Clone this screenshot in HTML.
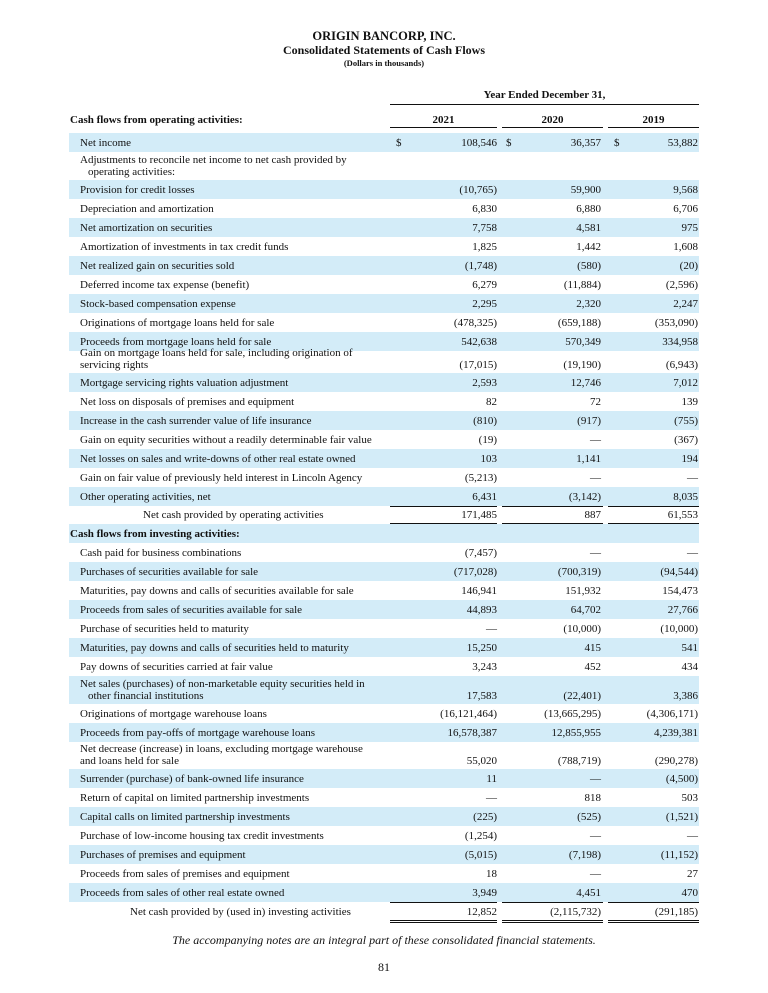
<!DOCTYPE html>
<html><head><meta charset="utf-8">
<style>
html,body{margin:0;padding:0;background:#fff;}
body{width:768px;height:993px;position:relative;font-family:"Liberation Serif",serif;color:#111;overflow:hidden;}
.abs{position:absolute;}
.t{left:0;width:768px;text-align:center;font-weight:bold;}
.row{position:absolute;left:69px;width:630px;font-size:11px;}
.row.sh{background:#d3ecf8;}
.lab{position:absolute;left:11px;bottom:3px;line-height:12px;white-space:nowrap;}
.v{position:absolute;bottom:3px;line-height:12px;text-align:right;white-space:nowrap;}
.ln{position:absolute;height:1px;background:#111;}
</style></head><body>
<div class="abs t" style="top:29px;font-size:12.5px">ORIGIN BANCORP, INC.</div>
<div class="abs t" style="top:43px;font-size:12px">Consolidated Statements of Cash Flows</div>
<div class="abs t" style="top:58px;font-size:8.5px">(Dollars in thousands)</div>
<div class="abs" style="left:390px;width:309px;top:89px;text-align:center;font-size:11px;font-weight:bold">Year Ended December 31,</div>
<div class="ln" style="left:390px;width:309px;top:104px"></div>
<div class="abs" style="left:70px;top:114px;font-size:11px;font-weight:bold">Cash flows from operating activities:</div>
<div class="abs" style="left:390px;width:107px;top:114px;text-align:center;font-size:11px;font-weight:bold">2021</div>
<div class="abs" style="left:502px;width:101px;top:114px;text-align:center;font-size:11px;font-weight:bold">2020</div>
<div class="abs" style="left:608px;width:91px;top:114px;text-align:center;font-size:11px;font-weight:bold">2019</div>
<div class="ln" style="left:390px;width:107px;top:127px"></div>
<div class="ln" style="left:502px;width:101px;top:127px"></div>
<div class="ln" style="left:608px;width:91px;top:127px"></div>
<div id="tbl"></div>
<div class="abs" style="left:0;width:768px;top:933px;text-align:center;font-size:12px;font-style:italic">The accompanying notes are an integral part of these consolidated financial statements.</div>
<div class="abs" style="left:0;width:768px;top:960px;text-align:center;font-size:12px">81</div>
<script>
const labels=["Net income","Adjustments to reconcile net income to net cash provided by|operating activities:","Provision for credit losses","Depreciation and amortization","Net amortization on securities","Amortization of investments in tax credit funds","Net realized gain on securities sold","Deferred income tax expense (benefit)","Stock-based compensation expense","Originations of mortgage loans held for sale","Proceeds from mortgage loans held for sale","Gain on mortgage loans held for sale, including origination of||servicing rights","Mortgage servicing rights valuation adjustment","Net loss on disposals of premises and equipment","Increase in the cash surrender value of life insurance","Gain on equity securities without a readily determinable fair value","Net losses on sales and write-downs of other real estate owned","Gain on fair value of previously held interest in Lincoln Agency","Other operating activities, net","Net cash provided by operating activities","Cash flows from investing activities:","Cash paid for business combinations","Purchases of securities available for sale","Maturities, pay downs and calls of securities available for sale","Proceeds from sales of securities available for sale","Purchase of securities held to maturity","Maturities, pay downs and calls of securities held to maturity","Pay downs of securities carried at fair value","Net sales (purchases) of non-marketable equity securities held in|other financial institutions","Originations of mortgage warehouse loans","Proceeds from pay-offs of mortgage warehouse loans","Net decrease (increase) in loans, excluding mortgage warehouse||and loans held for sale","Surrender (purchase) of bank-owned life insurance","Return of capital on limited partnership investments","Capital calls on limited partnership investments","Purchase of low-income housing tax credit investments","Purchases of premises and equipment","Proceeds from sales of premises and equipment","Proceeds from sales of other real estate owned","Net cash provided by (used in) investing activities"];
const v2021=["108,546","","(10,765)","6,830","7,758","1,825","(1,748)","6,279","2,295","(478,325)","542,638","(17,015)","2,593","82","(810)","(19)","103","(5,213)","6,431","171,485","","(7,457)","(717,028)","146,941","44,893","—","15,250","3,243","17,583","(16,121,464)","16,578,387","55,020","11","—","(225)","(1,254)","(5,015)","18","3,949","12,852"];
const v2020=["36,357","","59,900","6,880","4,581","1,442","(580)","(11,884)","2,320","(659,188)","570,349","(19,190)","12,746","72","(917)","—","1,141","—","(3,142)","887","","—","(700,319)","151,932","64,702","(10,000)","415","452","(22,401)","(13,665,295)","12,855,955","(788,719)","—","818","(525)","—","(7,198)","—","4,451","(2,115,732)"];
const v2019=["53,882","","9,568","6,706","975","1,608","(20)","(2,596)","2,247","(353,090)","334,958","(6,943)","7,012","139","(755)","(367)","194","—","8,035","61,553","","—","(94,544)","154,473","27,766","(10,000)","541","434","3,386","(4,306,171)","4,239,381","(290,278)","(4,500)","503","(1,521)","—","(11,152)","27","470","(291,185)"];
const heights=[19,28,19,19,19,19,19,19,19,19,19,22,19,19,19,19,19,19,19,18,19,19,19,19,19,19,19,19,28,19,19,27,19,19,19,19,19,19,19,19];
const shaded=[1,0,1,0,1,0,1,0,1,0,1,0,1,0,1,0,1,0,1,0,1,0,1,0,1,0,1,0,1,0,1,0,1,0,1,0,1,0,1,0];
(function(){
const tbl=document.getElementById('tbl');
let yPos=133;
for(let i=0;i<labels.length;i++){
  const r=document.createElement('div');
  
  
  r.className='row'+(shaded[i]?' sh':'');
  r.style.top=yPos+'px';r.style.height=heights[i]+'px';
  const l=document.createElement('div');
  
  
  l.className='lab';
  const noInd=labels[i].indexOf('||')>=0;
  const parts=labels[i].split(/\|\|?/);
  l.innerHTML=parts[0]+(parts[1]?'<br><span style="padding-left:'+(noInd?0:8)+'px">'+parts[1]+'</span>':'');
  const two=parts.length>1;
  if(two)l.style.bottom='2px';
  if(labels[i].startsWith('Cash flows')){l.style.left='1px';l.style.fontWeight='bold';}
  if(labels[i]==='Net cash provided by operating activities')l.style.left='74px';
  if(labels[i]==='Net cash provided by (used in) investing activities')l.style.left='61px';
  r.appendChild(l);
  const cols=[[v2021,'2021',330,428],[v2020,'2020',440,532],[v2019,'2019',548,629]];
  cols.forEach(c=>{
    const val=c[0][i];
    if(val){
      const d=document.createElement('div');
      
      
      d.className='v';d.style.left=(c[2]+10)+'px';d.style.width=(c[3]-c[2]-10)+'px';
      if(two)d.style.bottom='2px';
      d.textContent=val;r.appendChild(d);
      if(i===0){
        const s=document.createElement('div');
        
        
        s.className='v';s.style.left=(c[2]-3)+'px';s.textContent='$';r.appendChild(s);
      }
    }
  });
  tbl.appendChild(r);
  if(labels[i].startsWith('Net cash provided')){
    [[390,107],[502,101],[608,91]].forEach(p=>{
      const a=document.createElement('div');
      
      
      a.className='ln';a.style.left=p[0]+'px';a.style.width=p[1]+'px';a.style.top=yPos+'px';tbl.appendChild(a);
      [0,2].forEach(o=>{
        const b=document.createElement('div');
        
        
        b.className='ln';b.style.left=p[0]+'px';b.style.width=p[1]+'px';b.style.top=(yPos+heights[i]-1+o)+'px';tbl.appendChild(b);
      });
    });
  }
  yPos+=heights[i];
}
})();
</script>
</body></html>
